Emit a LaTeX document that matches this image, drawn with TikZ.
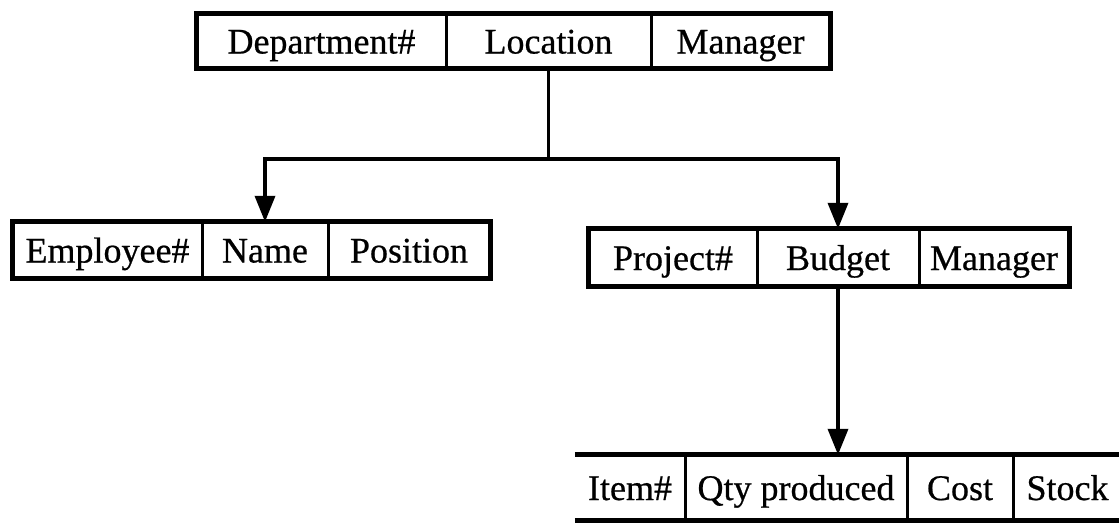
\documentclass[tikz,border=0pt]{standalone}
\usepackage{fontspec}
\setmainfont{Liberation Serif}
\newfontfamily\printfont{Liberation Serif}[FakeBold=0.6]
\usetikzlibrary{arrows.meta}
\begin{document}
\begin{tikzpicture}[x=1pt,y=-1pt,
  cell/.style={inner sep=0pt, anchor=center, text height=29pt, text depth=4pt,
    font=\printfont\fontsize{36}{40}\selectfont},
  frame/.style={line width=5pt},
  divider/.style={line width=3.2pt},
  link/.style={line width=3.6pt},
  arr/.style={link, -{Triangle[width=20pt,length=26pt]}}]
\useasboundingbox (0,0) rectangle (1119,523);

% Department record
\node[cell, minimum width=249pt, minimum height=54pt] (dept) at (321.5,41) {Department\#};
\node[cell, minimum width=205pt, minimum height=54pt] (loc)  at (548.5,41) {Location};
\node[cell, minimum width=179pt, minimum height=54pt] (mgr)  at (740.5,41) {Manager};
\draw[frame] (dept.north west) rectangle (mgr.south east);
\draw[divider] (dept.north east) -- (dept.south east);
\draw[divider] (loc.north east) -- (loc.south east);

% Employee record
\node[cell, minimum width=189pt, minimum height=56pt] (emp)  at (107.5,250) {Employee\#};
\node[cell, minimum width=126pt, minimum height=56pt] (name) at (265,250) {Name};
\node[cell, minimum width=162pt, minimum height=56pt] (pos)  at (409,250) {Position};
\draw[frame] (emp.north west) rectangle (pos.south east);
\draw[divider] (emp.north east) -- (emp.south east);
\draw[divider] (name.north east) -- (name.south east);

% Project record
\node[cell, minimum width=168pt, minimum height=57pt] (proj) at (673,257.5) {Project\#};
\node[cell, minimum width=162pt, minimum height=57pt] (bud)  at (838,257.5) {Budget};
\node[cell, minimum width=150pt, minimum height=57pt] (pmgr) at (994,257.5) {Manager};
\draw[frame] (proj.north west) rectangle (pmgr.south east);
\draw[divider] (proj.north east) -- (proj.south east);
\draw[divider] (bud.north east) -- (bud.south east);

% Item record (open at both ends)
\node[cell, minimum width=110pt, minimum height=65pt] (item)  at (630,487.5) {Item\#};
\node[cell, minimum width=222pt, minimum height=65pt] (qty)   at (796,487.5) {Qty produced};
\node[cell, minimum width=106pt, minimum height=65pt] (cost)  at (960,487.5) {Cost};
\node[cell, minimum width=109pt, minimum height=65pt] (stock) at (1067.5,487.5) {Stock};
\draw[frame] (item.north west) -- (stock.north east);
\draw[frame] (item.south west) -- (stock.south east);
\draw[divider] (item.north east) -- (item.south east);
\draw[divider] (qty.north east) -- (qty.south east);
\draw[divider] (cost.north east) -- (cost.south east);

% Connectors
\path (loc.south) ++(0,91) coordinate (j);
\draw[link] (loc.south) -- (j);
\draw[arr] (j) -| (name.north);
\draw[arr] (j) -| (bud.north);
\draw[arr] (bud.south) -- (bud.south |- qty.north);
\end{tikzpicture}
\end{document}
